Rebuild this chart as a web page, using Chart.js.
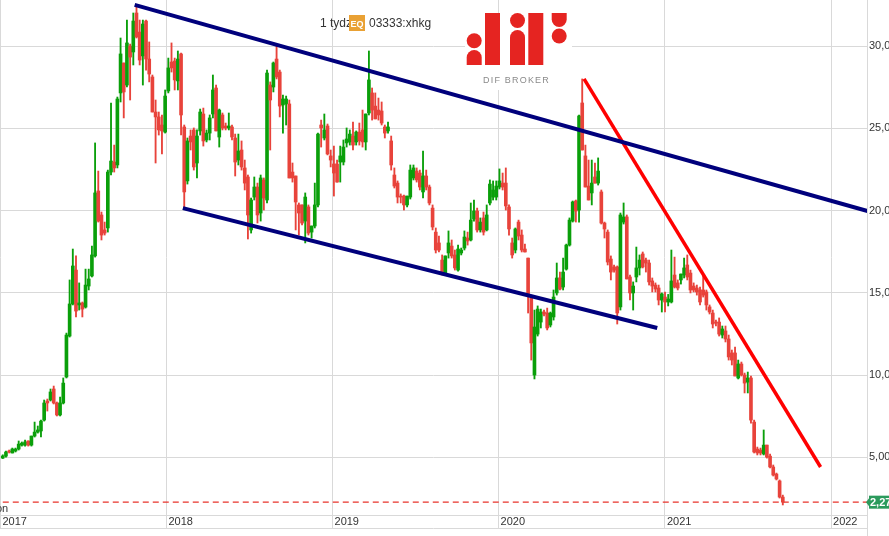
<!DOCTYPE html>
<html>
<head>
<meta charset="utf-8">
<script src="https://cdn.jsdelivr.net/npm/chart.js@4.4.1/dist/chart.umd.min.js"></script>
<style>
html,body{margin:0;padding:0;background:#fff;}
#wrap{width:889px;height:536px;position:relative;overflow:hidden;}
</style>
</head>
<body>
<div id="wrap"><canvas id="chart" width="889" height="536"></canvas></div>
<script>
// weekly candles of 03333:xhkg, first week ending 2017-01-06
const firstWeek = "2017-01-06";
const open = [4.95,5.07,5.38,5.26,5.38,5.50,5.74,5.74,5.99,5.74,
6.29,6.53,6.60,7.26,8.42,8.48,9.15,8.30,7.57,8.30,
9.88,12.37,14.32,16.38,14.26,14.38,14.13,15.41,16.02,17.24,
21.19,19.73,18.82,18.94,22.34,22.95,22.77,27.15,28.97,27.63,
30.00,29.64,32.01,30.85,29.40,31.52,29.21,28.12,25.99,25.69,
25.20,24.77,27.27,29.03,29.09,27.88,29.52,25.08,21.80,24.53,
24.90,22.89,24.84,25.87,24.29,24.71,25.87,27.45,24.47,25.81,
25.14,25.02,25.08,24.41,23.07,23.68,22.59,22.04,18.82,20.82,
21.43,19.85,21.86,20.64,27.63,27.51,29.21,28.42,26.42,26.48,
26.48,22.34,22.10,20.34,20.34,19.36,20.22,18.69,19.06,20.34,
25.20,24.41,25.14,23.32,22.83,22.83,22.95,22.95,24.11,24.17,
24.53,24.17,24.77,24.90,24.17,25.93,27.15,26.35,26.11,26.05,
25.08,24.84,24.23,22.16,21.67,20.88,20.88,20.34,20.82,21.98,
22.40,22.28,21.13,22.10,21.43,20.15,18.69,18.03,16.99,16.20,
17.42,17.84,17.30,16.38,17.42,17.72,18.33,18.21,19.48,19.97,
18.82,19.55,18.82,20.46,20.82,20.82,21.43,21.67,21.67,20.22,
18.03,17.60,19.30,18.51,17.66,17.11,14.68,10.00,12.49,13.22,
13.83,13.77,13.04,13.53,14.99,15.90,15.35,16.44,17.90,19.36,
20.58,20.03,26.54,23.32,21.49,21.07,22.04,21.67,21.13,19.24,
18.69,17.05,16.57,16.57,14.14,19.30,19.61,15.96,14.99,15.96,
16.51,17.36,16.99,16.81,15.72,15.47,15.29,14.56,14.74,14.44,
14.44,16.08,15.60,15.78,16.08,16.69,16.20,15.41,15.29,15.17,
15.17,15.05,14.14,13.77,13.22,13.22,12.43,12.68,12.19,11.34,
11.34,9.82,10.67,10.00,9.57,9.82,7.14,5.50,5.44,5.20,
5.74,5.07,4.41,3.98,3.56,2.58];
const high = [5.15,5.38,5.44,5.56,5.56,5.99,5.93,6.05,6.00,6.29,
7.14,6.90,7.26,8.48,8.54,9.15,9.33,8.36,8.66,9.82,
12.55,15.78,17.66,17.24,15.60,14.44,16.44,16.44,17.84,24.11,
22.40,19.91,19.30,22.46,26.54,23.98,26.90,30.49,28.97,31.58,
30.12,32.01,32.50,31.58,31.58,31.58,30.25,28.24,26.72,25.99,
25.81,27.33,29.27,30.19,29.27,29.70,29.58,25.20,24.41,24.90,
25.02,24.90,26.17,26.23,24.90,25.81,28.24,27.63,26.17,25.93,
25.32,25.93,25.20,24.65,24.65,24.23,23.07,22.16,20.76,22.04,
21.67,22.16,21.98,28.54,27.82,29.03,30.06,28.54,27.02,26.96,
26.72,22.89,22.10,20.46,20.34,21.07,20.34,19.06,21.67,24.71,
25.50,25.87,25.26,23.68,23.92,23.07,23.92,24.29,25.02,24.90,
25.38,24.84,25.32,26.11,25.87,29.70,27.45,27.15,26.84,26.60,
25.20,25.38,24.53,22.59,21.80,21.01,20.94,20.88,22.77,22.77,
22.59,22.46,23.62,22.46,21.55,20.34,18.94,18.45,17.30,17.24,
18.76,18.21,17.60,17.90,17.72,18.76,18.69,20.46,20.64,20.15,
19.55,19.91,20.34,21.86,21.80,21.80,22.53,22.28,22.59,20.34,
18.33,18.94,19.42,18.82,17.96,17.11,14.86,13.95,14.20,14.01,
13.95,14.07,13.83,15.17,16.81,16.26,17.11,17.96,19.55,20.58,
20.64,25.81,28.00,23.98,23.07,23.07,22.89,23.20,21.25,19.30,
18.82,17.24,16.69,16.63,19.85,20.46,19.73,16.08,15.66,17.78,
17.30,17.48,17.11,16.99,15.90,15.60,15.47,14.99,15.05,14.90,
17.60,17.17,15.78,16.14,17.11,17.30,16.38,15.60,15.47,15.35,
16.08,15.17,14.26,13.95,13.34,13.47,12.98,12.98,12.43,11.52,
11.70,10.91,10.79,10.12,10.18,9.94,7.26,5.62,5.56,6.66,
5.74,5.20,4.53,4.04,3.62,2.70];
const low = [4.92,5.01,5.26,5.26,5.32,5.44,5.68,5.68,5.68,5.68,
6.23,6.47,6.23,7.20,7.81,8.42,8.24,7.51,7.51,8.24,
9.82,12.31,14.26,13.53,13.95,13.53,14.07,15.17,15.96,17.17,
19.30,18.21,18.51,18.69,22.16,22.34,22.59,26.60,25.63,27.51,
26.72,28.85,30.49,28.85,27.63,28.54,27.82,25.99,22.89,24.59,
23.44,24.71,27.15,28.42,27.33,27.33,24.59,20.15,21.61,23.68,
22.46,21.98,24.59,23.92,24.17,24.29,25.63,24.84,23.86,24.90,
24.90,24.90,24.29,22.10,22.77,22.46,21.25,18.27,18.63,20.64,
19.24,19.36,20.03,20.46,23.68,27.21,28.00,25.69,24.71,25.20,
21.98,21.73,18.82,18.51,19.12,18.03,18.51,18.33,18.94,20.22,
23.86,24.29,23.38,22.65,20.88,21.73,21.73,22.77,23.86,23.98,
23.68,23.98,23.98,23.86,23.68,25.81,25.50,25.57,25.50,25.20,
24.41,24.71,22.46,21.37,20.46,20.46,20.03,20.22,20.70,21.86,
21.73,21.25,20.76,21.25,20.34,18.82,17.42,17.48,16.08,16.08,
17.11,17.11,16.38,16.32,17.30,17.60,17.90,18.15,19.36,18.69,
18.69,18.51,18.76,20.34,20.64,20.64,21.31,21.25,20.03,18.51,
17.11,17.42,18.21,17.48,17.48,13.77,10.91,9.76,12.37,12.86,
13.59,12.74,12.92,13.34,14.86,15.17,15.17,16.38,17.84,19.30,
19.30,19.30,23.68,21.43,20.64,20.34,21.67,21.55,19.18,18.33,
16.69,15.78,16.26,13.10,13.95,19.18,15.84,14.56,13.95,15.66,
16.08,16.51,16.26,15.47,15.05,15.05,14.26,13.83,13.83,14.20,
14.38,15.29,15.17,15.53,15.90,15.78,14.99,15.05,14.86,14.26,
14.74,13.95,13.71,12.86,12.98,12.37,12.25,12.01,10.91,10.61,
9.94,9.76,9.94,8.91,8.91,7.08,5.26,5.14,5.14,5.14,
4.95,4.35,3.86,3.62,2.52,2.10];
const close = [5.08,5.32,5.32,5.50,5.50,5.80,5.86,5.93,5.74,6.29,
6.53,6.66,7.20,8.30,8.30,8.97,8.30,7.57,8.30,9.51,
12.43,14.32,16.63,13.89,14.38,14.01,15.47,15.84,17.30,21.07,
19.36,18.51,18.63,22.34,23.01,22.59,26.78,29.52,27.21,30.19,
29.33,31.52,30.55,29.15,31.34,29.21,28.30,25.99,25.69,24.90,
24.84,26.96,28.67,28.67,27.94,29.21,25.81,21.13,24.23,24.17,
22.65,24.53,25.99,24.23,24.71,25.63,27.33,24.84,26.11,25.02,
25.02,25.14,24.47,22.95,23.62,22.65,21.67,19.73,20.64,21.43,
19.73,21.98,20.76,28.36,26.72,28.97,28.12,26.35,26.78,26.78,
21.98,21.98,20.52,19.85,19.24,20.82,18.63,19.06,20.34,24.65,
25.02,24.90,23.44,23.07,22.28,21.73,23.32,23.86,24.35,24.65,
23.98,24.77,24.23,24.17,25.87,27.94,26.11,25.57,25.81,25.32,
24.71,25.08,22.77,21.49,20.82,20.82,20.34,20.88,22.46,22.59,
21.86,21.43,22.10,21.43,20.46,19.00,17.60,17.60,16.20,17.24,
18.03,17.24,16.51,17.66,17.60,18.39,18.15,19.42,19.97,18.82,
19.30,18.69,19.73,21.61,21.25,21.49,21.80,21.43,20.28,18.88,
17.30,18.88,18.45,17.60,17.48,14.86,11.95,12.92,14.01,13.83,
13.71,12.86,13.77,14.74,15.90,15.23,16.26,17.90,19.42,20.52,
19.97,25.75,23.68,21.43,20.64,21.67,21.67,22.40,19.24,18.88,
16.87,16.26,16.38,13.77,19.73,19.61,15.84,14.99,15.41,16.51,
16.99,16.57,16.81,15.66,15.41,15.23,14.56,14.93,14.44,14.62,
15.72,15.35,15.29,16.14,16.51,15.96,15.17,15.17,15.05,14.44,
14.86,14.26,13.83,13.10,13.16,12.49,12.80,12.19,11.10,10.91,
9.94,10.67,10.00,9.51,9.82,7.26,5.32,5.26,5.26,5.74,
5.01,4.41,3.92,3.68,2.58,2.27];

// hand-drawn trend lines (date, price)
const upperChannelDates = ["2017-10-23", "2022-03-25"];
const upperChannelValues = [32.5, 19.95];
const lowerChannelDates = ["2018-02-06", "2020-12-15"];
const lowerChannelValues = [20.15, 12.86];
const downTrendDates = ["2020-07-07", "2021-12-09"];
const downTrendValues = [28.0, 4.41];
const lastPrice = 2.27;

const yearTicks = [2017, 2018, 2019, 2020, 2021, 2022];
const priceTicks = [5, 10, 15, 20, 25, 30];

const GREEN = "#0a9f0a";
const RED = "#e8433b";
const GRID = "#d9d9d9";
const FONT = 'Arial, "Liberation Sans", sans-serif';

const xMin = Date.UTC(2016, 11, 30, 22);
const xMax = Date.UTC(2022, 2, 21, 3);

const weekMs = 7 * 24 * 3600 * 1000;
const t0 = Date.parse(firstWeek);
const weeks = close.map((_, i) => t0 + i * weekMs);
const bodies = weeks.map((t, i) => ({x: t, y: [open[i], close[i]]}));
const wicks = weeks.map((t, i) => ({x: t, y: [low[i], high[i]]}));
const candleColor = c => close[c.dataIndex] >= open[c.dataIndex] ? GREEN : RED;
const toPoints = (dates, vals) => dates.map((d, i) => ({x: Date.parse(d), y: vals[i]}));

function roundTop(ctx, x, y, w, h) {
  ctx.beginPath();
  ctx.moveTo(x, y + h);
  ctx.lineTo(x, y + w / 2);
  ctx.arc(x + w / 2, y + w / 2, w / 2, Math.PI, 0);
  ctx.lineTo(x + w, y + h);
  ctx.closePath();
  ctx.fill();
}
function roundBottom(ctx, x, y, w, h) {
  ctx.beginPath();
  ctx.moveTo(x, y);
  ctx.lineTo(x + w, y);
  ctx.lineTo(x + w, y + h - w / 2);
  ctx.arc(x + w / 2, y + h - w / 2, w / 2, 0, Math.PI);
  ctx.closePath();
  ctx.fill();
}
function dot(ctx, x, y, r) {
  ctx.beginPath();
  ctx.arc(x, y, r, 0, Math.PI * 2);
  ctx.fill();
}

const decorations = {
  id: "decorations",
  beforeDatasetsDraw(chart) {
    const ctx = chart.ctx;
    ctx.save();
    // logo panel
    ctx.fillStyle = "#fff";
    ctx.fillRect(465, 13, 107, 77);
    ctx.fillStyle = "#e52421";
    dot(ctx, 474.2, 40.8, 7.5);
    roundTop(ctx, 466.7, 50, 15, 15);
    ctx.fillRect(485, 13, 15, 52);
    dot(ctx, 517.5, 20.5, 7.5);
    roundTop(ctx, 510, 30, 15, 35);
    ctx.fillRect(528.3, 13, 15, 52);
    roundBottom(ctx, 551.7, 13, 15, 14);
    dot(ctx, 559.2, 36, 7.5);
    ctx.fillStyle = "#8a8a8a";
    ctx.font = "9px " + FONT;
    ctx.letterSpacing = "1.2px";
    ctx.textBaseline = "alphabetic";
    ctx.fillText("DIF BROKER", 483, 83);
    ctx.restore();
  },
  afterDraw(chart) {
    const {ctx, chartArea, scales} = chart;
    ctx.save();
    // frame lines under the axis labels
    ctx.strokeStyle = GRID;
    ctx.lineWidth = 1;
    ctx.beginPath();
    ctx.moveTo(0, 528.5);
    ctx.lineTo(chartArea.right, 528.5);
    ctx.moveTo(chartArea.right + 0.5, chartArea.bottom);
    ctx.lineTo(chartArea.right + 0.5, 536);
    ctx.stroke();

    // title
    ctx.fillStyle = "#333";
    ctx.font = "12px " + FONT;
    ctx.textBaseline = "alphabetic";
    ctx.textAlign = "left";
    ctx.fillText("1 tydz", 320, 27);
    ctx.fillStyle = "#e9a134";
    ctx.fillRect(349, 15, 16, 16);
    ctx.fillStyle = "#fff";
    ctx.font = "bold 9px " + FONT;
    ctx.textAlign = "center";
    ctx.fillText("EQ", 357, 26.5);
    ctx.fillStyle = "#333";
    ctx.textAlign = "left";
    ctx.font = "12px " + FONT;
    ctx.fillText("03333:xhkg", 369, 27);

    // cut-off label at lower left
    ctx.font = "11px " + FONT;
    ctx.fillText("on", -4, 512);

    // last price badge
    const y = scales.y.getPixelForValue(lastPrice);
    const x0 = chartArea.right + 2;
    ctx.fillStyle = "#2b9a5c";
    ctx.beginPath();
    ctx.moveTo(chartArea.right - 1, y);
    ctx.lineTo(x0, y - 4);
    ctx.lineTo(x0, y + 4);
    ctx.closePath();
    ctx.fill();
    ctx.fillRect(x0, y - 6.5, 889 - x0, 13);
    ctx.fillStyle = "#fff";
    ctx.font = "bold 11px " + FONT;
    ctx.textBaseline = "middle";
    ctx.fillText(lastPrice.toFixed(2).replace(".", ","), x0 + 1, y + 0.5);
    ctx.restore();
  }
};

Chart.defaults.font.family = FONT;
Chart.defaults.font.size = 11;
Chart.defaults.color = "#333";

new Chart(document.getElementById("chart"), {
  type: "bar",
  data: {
    datasets: [
      {type: "line", data: toPoints(upperChannelDates, upperChannelValues), borderColor: "#00007c", borderWidth: 4, pointRadius: 0, clip: 0, order: 0},
      {type: "line", data: toPoints(lowerChannelDates, lowerChannelValues), borderColor: "#00007c", borderWidth: 4, pointRadius: 0, clip: 0, order: 0},
      {type: "line", data: toPoints(downTrendDates, downTrendValues), borderColor: "#ff0000", borderWidth: 3.5, pointRadius: 0, clip: 0, order: 0},
      {data: bodies, backgroundColor: candleColor, barThickness: 3, minBarLength: 1, grouped: false, borderWidth: 0, order: 1},
      {data: wicks, backgroundColor: candleColor, barThickness: 1.2, grouped: false, borderWidth: 0, order: 2},
      {type: "line", data: [{x: weeks[0], y: lastPrice}, {x: xMax, y: lastPrice}], borderColor: "#e8332b", borderWidth: 1.4, borderDash: [6, 4], pointRadius: 0, clip: 0, order: 3}
    ]
  },
  options: {
    responsive: false,
    animation: false,
    events: [],
    layout: {padding: 0},
    plugins: {legend: {display: false}, tooltip: {enabled: false}},
    scales: {
      x: {
        type: "linear",
        min: xMin,
        max: xMax,
        offset: false,
        grid: {color: GRID, offset: false, drawTicks: true, tickLength: 13},
        border: {display: true, color: GRID},
        ticks: {
          align: "start", labelOffset: 2, padding: -13, maxRotation: 0, autoSkip: false,
          callback: v => String(new Date(v).getUTCFullYear())
        },
        afterBuildTicks: s => { s.ticks = yearTicks.map(yr => ({value: Date.UTC(yr, 0, 1)})); },
        afterFit: s => { s.height = 21; s.paddingLeft = 0; s.paddingRight = 0; }
      },
      y: {
        position: "right",
        min: 1.49,
        max: 32.8,
        grid: {color: GRID, drawTicks: false},
        border: {display: true, color: GRID},
        ticks: {padding: 2, callback: v => v.toFixed(2).replace(".", ",")},
        afterBuildTicks: s => { s.ticks = priceTicks.map(v => ({value: v})); },
        afterFit: s => { s.width = 22; s.paddingTop = 0; s.paddingBottom = 0; }
      }
    }
  },
  plugins: [decorations]
});
</script>
</body>
</html>
